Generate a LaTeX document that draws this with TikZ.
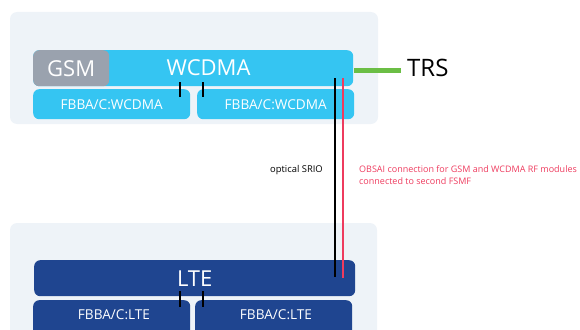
\documentclass[tikz,border=0pt]{standalone}
\usepackage{fontspec}
\setmainfont{Open Sans}
\definecolor{panel}{HTML}{EEF3F8}
\definecolor{cyanbox}{HTML}{35C5F2}
\definecolor{gsmgray}{HTML}{9AA2AE}
\definecolor{ltebox}{HTML}{1F4590}
\definecolor{trsgreen}{HTML}{6BBE45}
\definecolor{obsred}{HTML}{EE3B5E}
\begin{document}
\begin{tikzpicture}[x=1pt,y=-1pt,
  panelbox/.style={fill=panel,rounded corners=7pt,draw=none},
  bar/.style={rounded corners=6pt,draw=none,text=white,inner sep=0pt},
  tick/.style={line width=2pt,black},
  bigtxt/.style={font=\fontsize{22}{24}\selectfont},
  smalltxt/.style={font=\fontsize{13.6}{15}\selectfont},
]
\useasboundingbox (0,0) rectangle (580,329);
\clip (0,0) rectangle (580,329);
% panels
\fill[panelbox] (10,12) rectangle (378,124);
\fill[panelbox] (10,223) rectangle (377,345);
% WCDMA / GSM
\node[bar,fill=cyanbox,minimum width=320pt,minimum height=36pt,anchor=north west] (wcdma) at (33,50) {};
\node[bar,fill=gsmgray,minimum width=76pt,minimum height=36pt,anchor=north west,bigtxt] (gsm) at (33,50) {GSM};
\node[text=white,bigtxt,anchor=center] (wcdmatext) at (208.5,68) {WCDMA};
\node[bar,fill=cyanbox,minimum width=157pt,minimum height=30pt,anchor=north west,smalltxt] (fw1) at (33,89) {FBBA/C:WCDMA};
\node[bar,fill=cyanbox,minimum width=157pt,minimum height=30pt,anchor=north west,smalltxt] (fw2) at (197,89) {FBBA/C:WCDMA};
% LTE
\node[bar,fill=ltebox,minimum width=321pt,minimum height=36pt,anchor=north west,bigtxt] (lte) at (34,260) {LTE};
\node[bar,fill=ltebox,minimum width=157pt,minimum height=40pt,anchor=north west] (fl1) at (33,300) {};
\node[bar,fill=ltebox,minimum width=157pt,minimum height=40pt,anchor=north west] (fl2) at (195,300) {};
\node[text=white,smalltxt] (fl1t) at (114,315) {FBBA/C:LTE};
\node[text=white,smalltxt] (fl2t) at (276,315) {FBBA/C:LTE};
% ticks
\coordinate (t1a) at (180,82); \coordinate (t1b) at (180,97);
\coordinate (t2a) at (203,82); \coordinate (t2b) at (203,97);
\draw[tick] (t1a) -- (t1b);
\draw[tick] (t2a) -- (t2b);
\coordinate (t3a) at (180,291); \coordinate (t3b) at (180,307);
\coordinate (t4a) at (203,291); \coordinate (t4b) at (203,307);
\draw[tick] (t3a) -- (t3b);
\draw[tick] (t4a) -- (t4b);
% vertical links
\coordinate (ba) at (335,78); \coordinate (bb) at (335,277);
\coordinate (ra) at (343,78); \coordinate (rb) at (343,278);
\draw[line width=2.8pt,black] (ba) -- (bb);
\draw[line width=2.8pt,obsred] (ra) -- (rb);
% TRS
\node[font=\fontsize{24}{26}\selectfont,anchor=west,inner sep=0pt] (trs) at (407,68) {TRS};
\coordinate (g1) at (354,70);
\coordinate (g2) at (401,70);
\draw[line width=5pt,trsgreen] (g1) -- (g2);
% labels
\node[font=\fontsize{9.4}{11}\selectfont,anchor=east,inner sep=0pt] (srio) at (323,170) {optical SRIO};
\node[font=\fontsize{9}{12}\selectfont,anchor=north west,inner sep=0pt,text=obsred,align=left] (obsai) at (359,165) {OBSAI connection for GSM and WCDMA RF modules\\connected to second FSMF};
\end{tikzpicture}
\end{document}
